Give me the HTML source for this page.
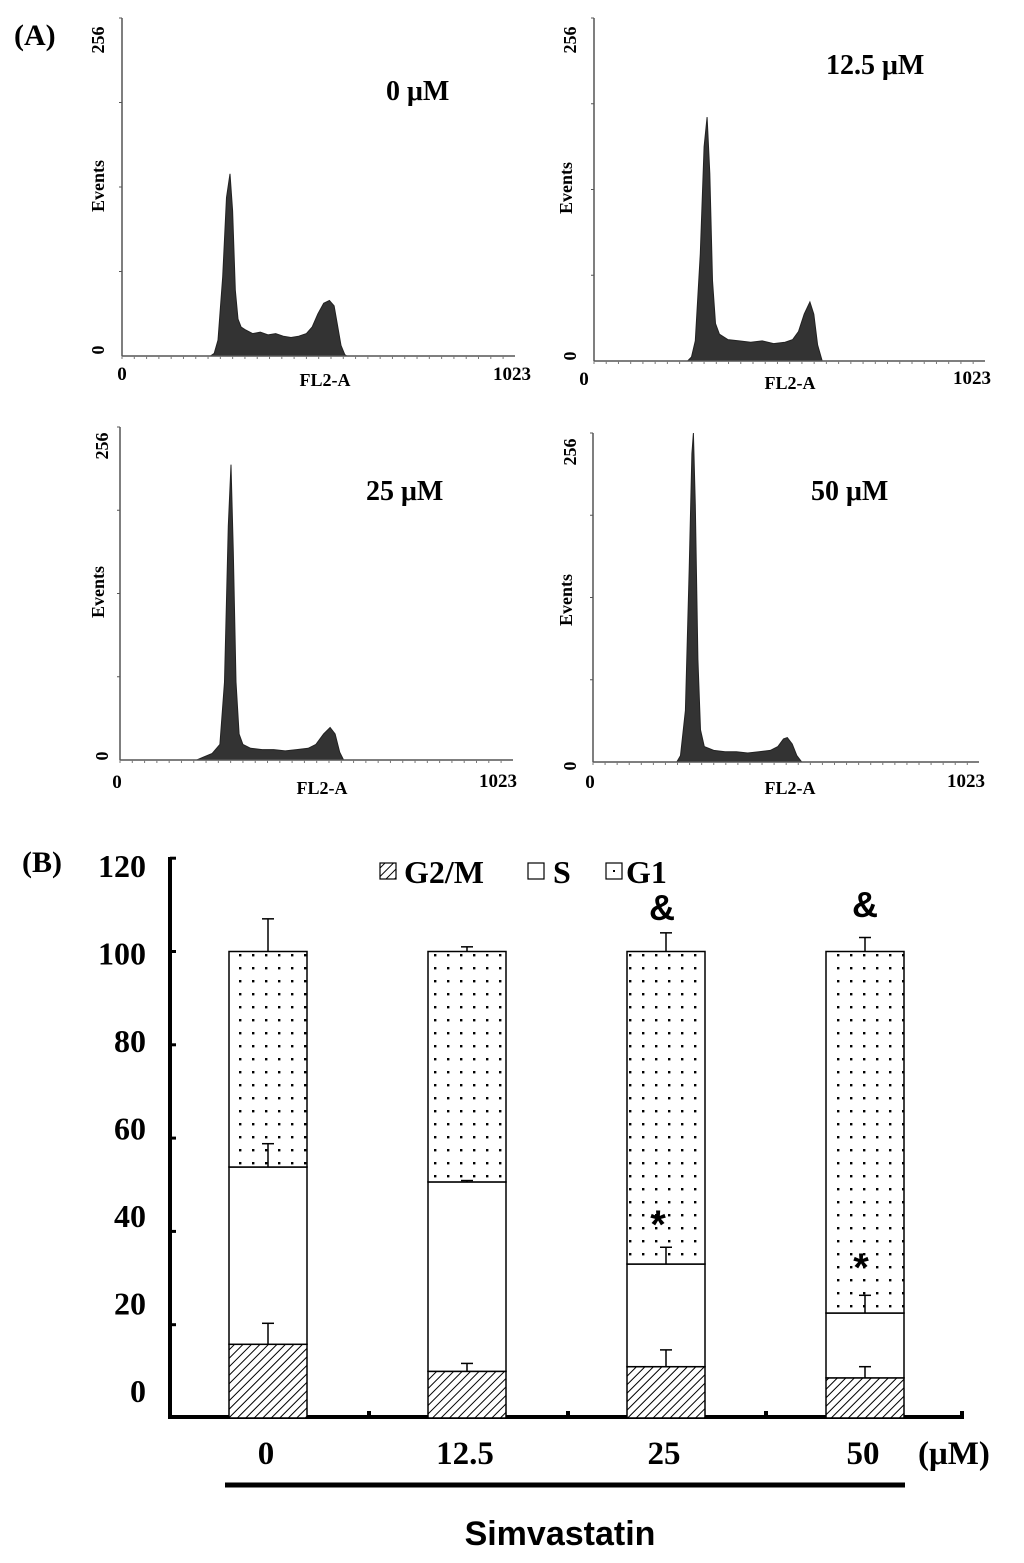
<!DOCTYPE html>
<html><head><meta charset="utf-8"><style>
body{margin:0;background:#fff}
svg{display:block;font-family:"Liberation Serif",serif;font-weight:bold}
</style></head><body>
<svg id="fig" width="1024" height="1563" viewBox="0 0 1024 1563">
<defs>
<pattern id="hatch" width="6" height="6" patternUnits="userSpaceOnUse" patternTransform="rotate(45)"><rect width="6" height="6" fill="#fff"/><line x1="0" y1="0" x2="0" y2="6" stroke="#000" stroke-width="2"/></pattern>
<pattern id="dots" width="13" height="13" patternUnits="userSpaceOnUse"><rect width="13" height="13" fill="#fff"/><rect x="5" y="5" width="2.4" height="2.4" fill="#000"/></pattern>
</defs>
<text x="14" y="45" font-size="30">(A)</text>
<text x="22" y="872" font-size="30">(B)</text>
<g id="hists"></g>
<g id="bars"></g>
</svg>
<script>
// ---- Histogram data: [channel, events] ----
const hist0 = [[230,0],[240,2],[250,12],[262,60],[272,120],[281,138],[288,110],[295,50],[302,28],[310,22],[320,20],[340,17],[360,18],[380,16],[400,17],[420,15],[440,14],[460,15],[480,17],[495,22],[510,32],[525,40],[540,42],[552,38],[560,25],[570,8],[580,1],[585,0]];
const hist12 = [[245,0],[255,3],[265,15],[278,80],[288,160],[296,182],[303,140],[310,60],[318,28],[328,20],[350,16],[380,15],[410,14],[440,15],[470,13],[500,14],[520,16],[535,22],[550,35],[565,44],[575,35],[585,12],[597,0]];
const hist25 = [[200,0],[215,2],[240,5],[260,12],[272,60],[282,180],[289,227],[295,160],[302,60],[310,20],[320,12],[340,9],[370,8],[400,8],[430,7],[460,8],[490,9],[510,12],[530,20],[547,25],[560,20],[572,6],[582,0]];
const hist50 = [[222,0],[232,5],[245,40],[255,150],[262,240],[266,256],[271,200],[278,80],[285,25],[295,12],[320,9],[350,8],[380,8],[410,7],[440,8],[470,9],[490,12],[505,18],[515,19],[528,14],[540,5],[553,0]];
const histLabels = ["0 μM","12.5 μM","25 μM","50 μM"];
// ---- Bar chart data ----
const doses = ["0","12.5","25","50"];
const g2m = [15.8,10,11,8.6];
const sPhase = [38,40.6,22,13.9];
const g1 = [46.2,49.4,67,77.5];
const g2mErr = [4.5,1.7,3.6,2.4];
const sErr = [5,0.3,3.6,3.8];
const g1Err = [7,1,4,3];
const yTicks = [0,20,40,60,80,100,120];

const NS="http://www.w3.org/2000/svg";
function mk(tag,attrs,parent,txt){const e=document.createElementNS(NS,tag);for(const k in attrs)e.setAttribute(k,attrs[k]);if(txt!==undefined)e.textContent=txt;parent.appendChild(e);return e;}

const panels=[
 {d:hist0,x0:122,x1:515,y0:356,y1:18,lab:[386,100],ax:{v256:[104,40],ev:[104,186],v0:[104,350],x0:[122,380],fl:[325,386],x1023:[512,380]}},
 {d:hist12,x0:594,x1:985,y0:361,y1:18,lab:[826,74],ax:{v256:[576,40],ev:[572,188],v0:[576,356],x0:[584,385],fl:[790,389],x1023:[972,384]}},
 {d:hist25,x0:120,x1:513,y0:760,y1:427,lab:[366,500],ax:{v256:[108,446],ev:[104,592],v0:[108,756],x0:[117,788],fl:[322,794],x1023:[498,787]}},
 {d:hist50,x0:593,x1:979,y0:762,y1:433,lab:[811,500],ax:{v256:[576,452],ev:[572,600],v0:[576,766],x0:[590,788],fl:[790,794],x1023:[966,787]}}
];
const hg=document.getElementById('hists');
panels.forEach((p,i)=>{
 const g=mk('g',{},hg);
 
 
 const sx=c=>p.x0+c/1023*(p.x1-p.x0), sy=v=>p.y0-v/256*(p.y0-p.y1);
 let dstr='M'+sx(p.d[0][0])+','+p.y0;
 p.d.forEach(pt=>{dstr+=' L'+sx(pt[0]).toFixed(1)+','+sy(pt[1]).toFixed(1);});
 dstr+=' Z';
 const area=mk('path',{d:dstr,fill:'#333',stroke:'#222','stroke-width':1},g);
 
 
 mk('line',{x1:p.x0,y1:p.y1,x2:p.x0,y2:p.y0,stroke:'#555','stroke-width':1.5},g);
 mk('line',{x1:p.x0,y1:p.y0,x2:p.x1,y2:p.y0,stroke:'#555','stroke-width':1.5},g);
 for(let k=1;k<=4;k++){const y=sy(k*64);mk('line',{x1:p.x0-3,y1:y,x2:p.x0,y2:y,stroke:'#555'},g);}
 for(let c=0;c<=1023;c+=32){const x=sx(c);mk('line',{x1:x,y1:p.y0,x2:x,y2:p.y0+3,stroke:'#777'},g);}
 const a=p.ax;
 mk('text',{x:a.v256[0],y:a.v256[1],'font-size':18,'text-anchor':'middle',transform:`rotate(-90 ${a.v256[0]} ${a.v256[1]})`},g,'256');
 mk('text',{x:a.ev[0],y:a.ev[1],'font-size':18,'text-anchor':'middle',transform:`rotate(-90 ${a.ev[0]} ${a.ev[1]})`},g,'Events');
 mk('text',{x:a.v0[0],y:a.v0[1],'font-size':18,'text-anchor':'middle',transform:`rotate(-90 ${a.v0[0]} ${a.v0[1]})`},g,'0');
 mk('text',{x:a.x0[0],y:a.x0[1],'font-size':19,'text-anchor':'middle'},g,'0');
 mk('text',{x:a.fl[0],y:a.fl[1],'font-size':18,'text-anchor':'middle'},g,'FL2-A');
 mk('text',{x:a.x1023[0],y:a.x1023[1],'font-size':19,'text-anchor':'middle'},g,'1023');
 const t=mk('text',{x:p.lab[0],y:p.lab[1],'font-size':28},g,histLabels[i]);
 
 
});

// ---- Bar chart ----
const bg=document.getElementById('bars');
const yS=v=>1418-v*4.665;
const bx=[268,467,666,865], bw=78;
mk('line',{x1:170,y1:857,x2:170,y2:1418,stroke:'#000','stroke-width':4},bg);
mk('line',{x1:168,y1:1417,x2:964,y2:1417,stroke:'#000','stroke-width':4},bg);
yTicks.forEach((v,i)=>{
 if(v>0){mk('line',{x1:170,y1:yS(v),x2:176,y2:yS(v),stroke:'#000','stroke-width':3},bg);}
 const t=mk('text',{x:146,y:1390-i*87.5+12,'font-size':32,'text-anchor':'end'},bg,String(v));
 
 
});
[369,568,766,962].forEach(x=>mk('line',{x1:x,y1:1417,x2:x,y2:1411,stroke:'#000','stroke-width':4},bg));
const errs=[];
doses.forEach((d,i)=>{
 const cx=bx[i], x=cx-bw/2;
 const segs=[[0,g2m[i],'url(#hatch)',g2mErr[i],'g2m'],[g2m[i],g2m[i]+sPhase[i],'#fff',sErr[i],'s'],[g2m[i]+sPhase[i],g2m[i]+sPhase[i]+g1[i],'url(#dots)',g1Err[i],'g1']];
 segs.forEach(s=>{
  const r=mk('rect',{x:x,y:yS(s[1]),width:bw,height:yS(s[0])-yS(s[1]),fill:s[2],stroke:'#000','stroke-width':1.5},bg);
  
  
  errs.push([cx,s[1],s[3]]);
 });
 const t=mk('text',{x:cx-2,y:1464,'font-size':33,'text-anchor':'middle'},bg,d);
 
 
});
errs.forEach(e=>{
 const cx=e[0], ye=yS(e[1]+e[2]);
 const l=mk('line',{x1:cx,y1:yS(e[1]),x2:cx,y2:ye,stroke:'#000','stroke-width':1.5},bg);
 
 
 mk('line',{x1:cx-6,y1:ye,x2:cx+6,y2:ye,stroke:'#000','stroke-width':1.5},bg);
});
mk('text',{x:918,y:1464,'font-size':33},bg,'(μM)');
mk('line',{x1:225,y1:1485,x2:905,y2:1485,stroke:'#000','stroke-width':5},bg);
const st=mk('text',{x:560,y:1545,'font-size':34,'text-anchor':'middle','font-family':'Liberation Sans, sans-serif'},bg,'Simvastatin');


// significance marks
mk('text',{x:662,y:920,'font-size':36,'text-anchor':'middle','font-family':'Liberation Sans, sans-serif'},bg,'&');
mk('text',{x:865,y:917,'font-size':36,'text-anchor':'middle','font-family':'Liberation Sans, sans-serif'},bg,'&');
mk('text',{x:658,y:1238,'font-size':40,'text-anchor':'middle','font-family':'Liberation Sans, sans-serif'},bg,'*');
mk('text',{x:861,y:1281,'font-size':40,'text-anchor':'middle','font-family':'Liberation Sans, sans-serif'},bg,'*');
// legend
const lg=mk('g',{},bg);


mk('rect',{x:380,y:863,width:16,height:16,fill:'url(#hatch)',stroke:'#000','stroke-width':1.2},lg);
mk('text',{x:404,y:883,'font-size':32},lg,'G2/M');
mk('rect',{x:528,y:863,width:16,height:16,fill:'#fff',stroke:'#000','stroke-width':1.2},lg);
mk('text',{x:553,y:883,'font-size':32},lg,'S');
mk('rect',{x:606,y:863,width:16,height:16,fill:'#fff',stroke:'#000','stroke-width':1.2},lg);
mk('rect',{x:613,y:870,width:2,height:2,fill:'#000'},lg);
mk('text',{x:626,y:883,'font-size':32},lg,'G1');
</script>
</body></html>
